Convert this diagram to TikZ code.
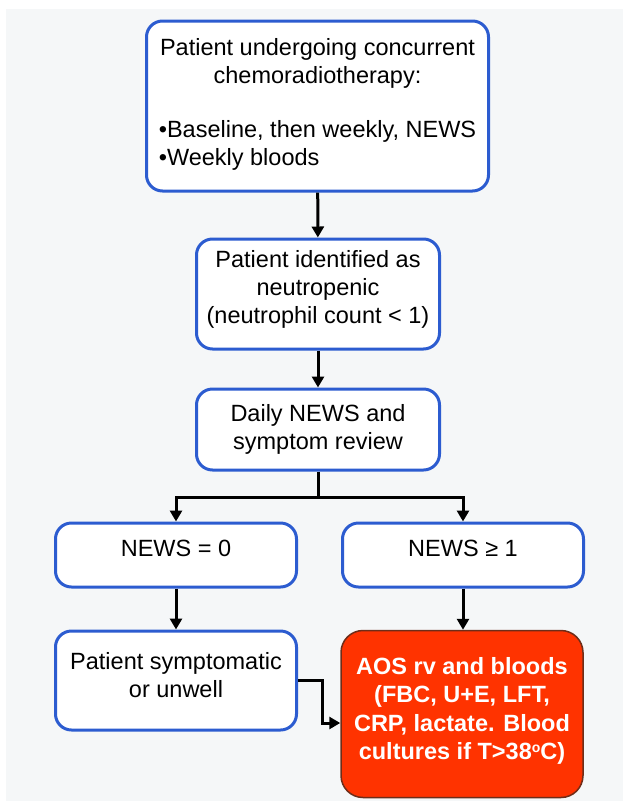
\documentclass[tikz,border=0pt]{standalone}
\usepackage{fontspec}
\setmainfont{Liberation Sans}
\usetikzlibrary{arrows.meta}
\definecolor{boxblue}{RGB}{44,92,208}
\definecolor{alertred}{RGB}{255,51,0}
\definecolor{alertedge}{RGB}{110,45,25}
\definecolor{backgray}{RGB}{245,247,248}
\tikzset{
    flowbox/.style={draw=boxblue, line width=3pt, rounded corners=16pt, fill=white, align=center, inner sep=0pt, font=\fontsize{23.5}{28}\selectfont},
    alertbox/.style={draw=alertedge, line width=1.5pt, rounded corners=22pt, fill=alertred, text=white, align=center, inner sep=0pt, font=\fontsize{23.5}{28.3}\selectfont\bfseries},
    flowarrow/.style={-{Triangle[width=12pt,length=11pt]}, line width=3pt}
}
\begin{document}
\begin{tikzpicture}[x=1pt, y=-1pt]
                    \useasboundingbox (0, 0) rectangle (623, 801);
                    \fill [backgray] (6, 9) rectangle (623, 801);
                    \node [flowbox, minimum width=342pt, minimum height=170pt] (start) at (317.5, 106) {Patient undergoing concurrent\\chemoradiotherapy:\\[28pt]\begin{tabular}{@{}l@{}}•Baseline, then weekly, NEWS\\•Weekly bloods\end{tabular}};
                    \node [flowbox, minimum width=243pt, minimum height=110pt, text depth=15pt] (neutro) at (318, 294) {Patient identified as\\neutropenic\\(neutrophil count < 1)};
                    \node [flowbox, minimum width=243pt, minimum height=81pt] (daily) at (318, 429.5) {Daily NEWS and\\symptom review};
                    \node [flowbox, minimum width=241pt, minimum height=64pt, text depth=14pt] (zero) at (176, 555) {NEWS = 0};
                    \node [flowbox, minimum width=241pt, minimum height=64pt, text depth=14pt] (one) at (463, 555) {NEWS ≥ 1};
                    \node [flowbox, minimum width=241pt, minimum height=99pt, text depth=12pt] (sympt) at (176, 680.5) {Patient symptomatic\\or unwell};
                    \node [alertbox, minimum width=242pt, minimum height=167pt, text depth=11pt] (aos) at (462, 714) {AOS rv and bloods\\(FBC, U+E, LFT,\\CRP, lactate. Blood\\cultures if T>38{\fontsize{14}{14}\selectfont\raisebox{7pt}{o}}C)};
                    \draw [flowarrow] (start) -- (neutro);
                    \draw [flowarrow] (neutro) -- (daily);
                    \draw [line width=3pt] (daily.south) -- ++(0, 26) coordinate (split);
                    \draw [flowarrow] (split) -| (zero.north);
                    \draw [flowarrow] (split) -| (one.north);
                    \draw [flowarrow] (zero) -- (sympt);
                    \draw [flowarrow] (one.south) -- (one.south |- aos.north);
                    \draw [flowarrow] (sympt.east) -- ++(24, 0) |- ([yshift=-9pt]aos.west);
                \end{tikzpicture}
\end{document}
